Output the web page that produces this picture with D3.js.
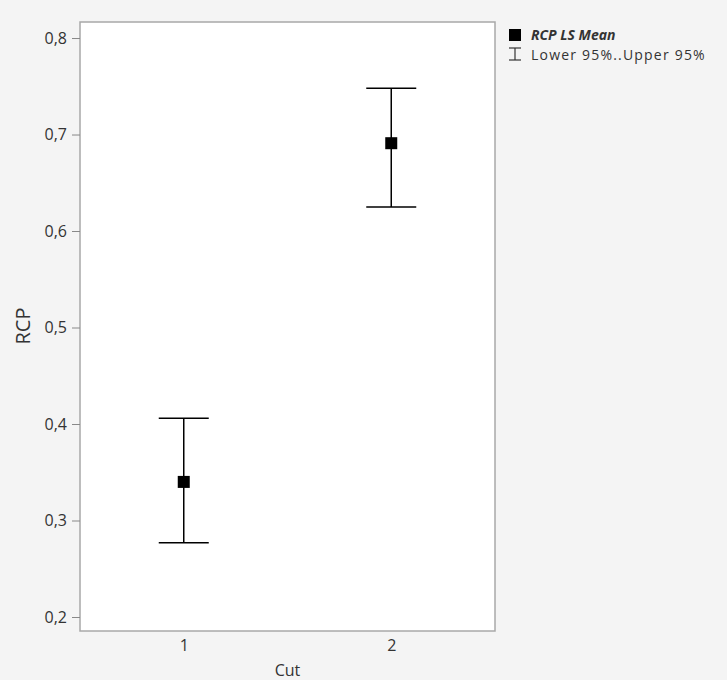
<!DOCTYPE html>
<html lang="en">
<head>
    <meta charset="UTF-8">
    <title>RCP LS Means by Cut</title>
    <script src="https://d3js.org/d3.v7.min.js"></script>
    <style>
        body { margin: 0; background: #f4f4f4; }
        svg { display: block; }
        .tick text { font-family: "Open Sans", sans-serif; font-size: 16px; fill: #333; }
        .label { font-family: "Open Sans", sans-serif; fill: #333; }
    </style>
</head>
<body>
    <svg id="chart" width="727" height="680"></svg>
    <script>
        const cuts = ["1", "2"];
        const lsMean = [0.340, 0.691];
        const lower95 = [0.277, 0.625];
        const upper95 = [0.406, 0.748];
        const yTicks = [0.2, 0.3, 0.4, 0.5, 0.6, 0.7, 0.8];

        const svg = d3.select("#chart");
        const margin = { top: 22, right: 232, bottom: 49, left: 80 },
              width = 727 - margin.left - margin.right,
              height = 680 - margin.top - margin.bottom;

        const data = cuts.map((c, i) => ({ cut: c, mean: lsMean[i], lo: lower95[i], hi: upper95[i] }));

        const x = d3.scalePoint().domain(cuts).range([0, width]).padding(0.5);
        const y = d3.scaleLinear().domain([0.1855, 0.8166]).range([height, 0]);
        const fmt = d => d3.format(".1f")(d).replace(".", ",");

        const g = svg.append("g").attr("transform", `translate(${margin.left},${margin.top})`);

        g.append("rect")
            .attr("width", width).attr("height", height)
            .attr("fill", "#fff").attr("stroke", "#a8a8a8").attr("stroke-width", 1.5);

        const yAxis = g.append("g")
            .call(d3.axisLeft(y).tickValues(yTicks).tickFormat(fmt).tickSize(8).tickPadding(5));
        yAxis.select(".domain").remove();
        yAxis.selectAll(".tick line").attr("stroke", "#888");

        const xAxis = g.append("g")
            .attr("transform", `translate(0,${height})`)
            .call(d3.axisBottom(x).tickSize(0).tickPadding(9));
        xAxis.select(".domain").remove();

        g.append("text").attr("class", "label")
            .attr("transform", "rotate(-90)")
            .attr("x", -(326 - margin.top)).attr("y", -50)
            .attr("text-anchor", "middle").attr("font-size", 20)
            .text("RCP");

        g.append("text").attr("class", "label")
            .attr("x", width / 2).attr("y", height + 45)
            .attr("text-anchor", "middle").attr("font-size", 16)
            .text("Cut");

        const capHalf = 25;
        const bars = g.selectAll(".err").data(data).enter().append("g").attr("class", "err");
        bars.append("line")
            .attr("x1", d => x(d.cut)).attr("x2", d => x(d.cut))
            .attr("y1", d => y(d.lo)).attr("y2", d => y(d.hi))
            .attr("stroke", "#000").attr("stroke-width", 1.5);
        bars.append("line")
            .attr("x1", d => x(d.cut) - capHalf).attr("x2", d => x(d.cut) + capHalf)
            .attr("y1", d => y(d.hi)).attr("y2", d => y(d.hi))
            .attr("stroke", "#000").attr("stroke-width", 1.5);
        bars.append("line")
            .attr("x1", d => x(d.cut) - capHalf).attr("x2", d => x(d.cut) + capHalf)
            .attr("y1", d => y(d.lo)).attr("y2", d => y(d.lo))
            .attr("stroke", "#000").attr("stroke-width", 1.5);
        bars.append("rect")
            .attr("x", d => x(d.cut) - 6).attr("y", d => y(d.mean) - 6)
            .attr("width", 12).attr("height", 12)
            .attr("fill", "#000");

        // legend
        const lg = svg.append("g").attr("transform", "translate(509,29)");
        lg.append("rect").attr("width", 12).attr("height", 12).attr("fill", "#000");
        lg.append("text").attr("class", "label")
            .attr("x", 22).attr("y", 11)
            .attr("font-size", 14).attr("font-weight", "bold").attr("font-style", "italic")
            .attr("fill", "#000")
            .text("RCP LS Mean");
        const ib = lg.append("g").attr("transform", "translate(6,19)").attr("stroke", "#333").attr("stroke-width", 1.2);
        ib.append("line").attr("x1", -6).attr("x2", 6).attr("y1", 0).attr("y2", 0);
        ib.append("line").attr("x1", 0).attr("x2", 0).attr("y1", 0).attr("y2", 12);
        ib.append("line").attr("x1", -6).attr("x2", 6).attr("y1", 12).attr("y2", 12);
        lg.append("text").attr("class", "label")
            .attr("x", 22).attr("y", 31)
            .attr("font-size", 14).attr("letter-spacing", 1.2)
            .text("Lower 95%..Upper 95%");
    </script>
</body>
</html>
